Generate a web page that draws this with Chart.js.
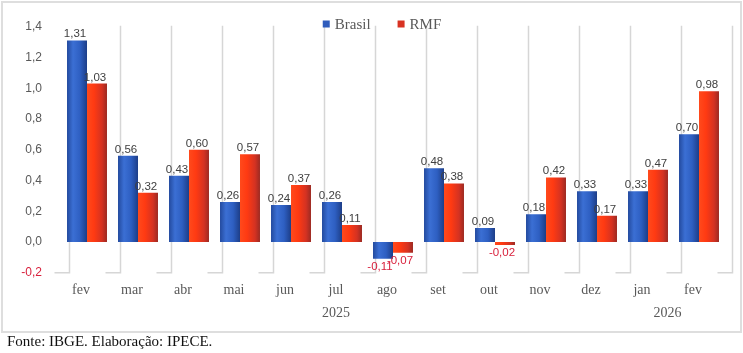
<!DOCTYPE html>
<html>
<head>
<meta charset="utf-8">
<script src="https://cdn.jsdelivr.net/npm/chart.js@4/dist/chart.umd.min.js"></script>
<style>
  html, body { margin: 0; padding: 0; background: #ffffff; }
  #wrap { position: relative; width: 743px; height: 353px; overflow: hidden; }
  #frame { position: absolute; left: 1px; top: 1px; width: 737px; height: 328px; border: 2px solid #dedede; box-sizing: content-box; pointer-events: none; }
  #chart { position: absolute; left: 0; top: 0; }
  #note { position: absolute; left: 7px; top: 333px; font-family: "Liberation Serif", "Times New Roman", serif; font-size: 15px; color: #111; white-space: nowrap; }
</style>
</head>
<body>
<div id="wrap">
  <div id="frame"></div>
  <canvas id="chart" width="743" height="353"></canvas>
  <div id="note">Fonte: IBGE. Elaboração: IPECE.</div>
</div>
<script>
const months = ['fev', 'mar', 'abr', 'mai', 'jun', 'jul', 'ago', 'set', 'out', 'nov', 'dez', 'jan', 'fev'];
const brasil = [1.31, 0.56, 0.43, 0.26, 0.24, 0.26, -0.11, 0.48, 0.09, 0.18, 0.33, 0.33, 0.70];
const rmf    = [1.03, 0.32, 0.60, 0.57, 0.37, 0.11, -0.07, 0.38, -0.02, 0.42, 0.17, 0.47, 0.98];
const years = ['2025', '2026'];
const yearFirst = [0, 11];
const yearLast = [10, 12];
const seriesNames = ['Brasil', 'RMF'];

const CAT_PCT = 0.784;
const fmt = v => Number(v).toFixed(2).replace('.', ',');
const NEG_RED = '#d8203c';

function barGradient(ctx, stops, solid) {
  if (ctx.type !== 'data') return solid;
  const chart = ctx.chart;
  const xs = chart.scales && chart.scales.x;
  if (!xs || !chart.chartArea) return solid;
  const cx = xs.getPixelForValue(ctx.dataIndex);
  const half = (xs.getPixelForValue(1) - xs.getPixelForValue(0)) * CAT_PCT / 2;
  const x0 = ctx.datasetIndex === 0 ? cx - half : cx;
  const x1 = ctx.datasetIndex === 0 ? cx : cx + half;
  const g = chart.ctx.createLinearGradient(x0, 0, x1, 0);
  stops.forEach(s => g.addColorStop(s[0], s[1]));
  return g;
}
const blueStops = [[0, '#234a9e'], [0.3, '#3b6fd4'], [0.65, '#2e5fc2'], [1, '#1d3e88']];
const redStops  = [[0, '#ff4a1c'], [0.35, '#ff3a12'], [0.75, '#d43222'], [1, '#9c2a22']];

const wallPlugin = {
  id: 'wall',
  beforeDatasetsDraw(chart) {
    const { ctx, chartArea } = chart;
    const xs = chart.scales.x, ys = chart.scales.y;
    const step = xs.getPixelForValue(1) - xs.getPixelForValue(0);
    const y0 = ys.getPixelForValue(0);
    ctx.save();
    ctx.strokeStyle = '#d6d6d6';
    ctx.lineWidth = 1.5;
    for (let i = 0; i <= months.length; i++) {
      const cx = xs.getPixelForValue(0) + step * i;
      const xb = Math.round(cx - 18) + 0.5;
      ctx.beginPath();
      ctx.moveTo(xb, i === 0 ? y0 : chartArea.top - 1);
      ctx.lineTo(xb, chartArea.bottom);
      ctx.lineTo(xb - 15, chartArea.bottom);
      ctx.stroke();
    }
    ctx.restore();
  },
  afterDatasetsDraw(chart) {
    const { ctx } = chart;
    ctx.save();
    ctx.font = '11.5px "Liberation Sans", Arial, sans-serif';
    ctx.textAlign = 'center';
    chart.data.datasets.forEach((ds, di) => {
      const meta = chart.getDatasetMeta(di);
      meta.data.forEach((el, i) => {
        const v = ds.data[i];
        if (v >= 0) {
          ctx.fillStyle = '#404040';
          ctx.textBaseline = 'bottom';
          ctx.fillText(fmt(v), el.x - 2, el.y - 0.5);
        } else {
          ctx.fillStyle = NEG_RED;
          ctx.textBaseline = 'top';
          ctx.fillText(fmt(v), el.x - 3, el.y + 2);
        }
      });
    });
    ctx.restore();
  },
  afterDraw(chart) {
    const { ctx, chartArea } = chart;
    const xs = chart.scales.x;
    ctx.save();
    ctx.font = '14px "Liberation Serif", "Times New Roman", serif';
    ctx.fillStyle = '#595959';
    ctx.textAlign = 'center';
    ctx.textBaseline = 'alphabetic';
    years.forEach((y, k) => {
      const x = (xs.getPixelForValue(yearFirst[k]) + xs.getPixelForValue(yearLast[k])) / 2 - 6;
      ctx.fillText(y, x, 317);
    });
    ctx.font = '15px "Liberation Serif", "Times New Roman", serif';
    const colors = ['#2f5cbc', '#d83222'];
    const gapAfterText = 27, box = 7, boxGap = 5;
    const widths = seriesNames.map(n => box + boxGap + ctx.measureText(n).width);
    const total = widths.reduce((a, b) => a + b, 0) + gapAfterText;
    let x = (chartArea.left + chartArea.right) / 2 - 11 - total / 2;
    ctx.textAlign = 'left';
    seriesNames.forEach((n, k) => {
      ctx.fillStyle = colors[k];
      ctx.fillRect(x, 20.5, box, box);
      ctx.fillStyle = '#595959';
      ctx.fillText(n, x + box + boxGap, 28.5);
      x += widths[k] + gapAfterText;
    });
    ctx.restore();
  }
};

new Chart(document.getElementById('chart'), {
  type: 'bar',
  data: {
    labels: months,
    datasets: [
      {
        label: seriesNames[0],
        data: brasil,
        backgroundColor: ctx => barGradient(ctx, blueStops, '#2f5cbc'),
        borderWidth: 0,
        categoryPercentage: CAT_PCT,
        barPercentage: 1
      },
      {
        label: seriesNames[1],
        data: rmf,
        backgroundColor: ctx => barGradient(ctx, redStops, '#d83222'),
        borderWidth: 0,
        categoryPercentage: CAT_PCT,
        barPercentage: 1
      }
    ]
  },
  options: {
    responsive: false,
    animation: false,
    devicePixelRatio: 1,
    layout: { padding: { top: 19, right: 18.5, left: 0, bottom: 0 } },
    plugins: {
      legend: { display: false },
      tooltip: { enabled: false }
    },
    scales: {
      x: {
        type: 'category',
        offset: true,
        grid: { display: false, drawTicks: false },
        border: { display: false },
        ticks: {
          autoSkip: false,
          maxRotation: 0,
          labelOffset: -6,
          padding: 9,
          color: '#595959',
          font: { family: '"Liberation Serif", "Times New Roman", serif', size: 14 }
        },
        afterFit(scale) { scale.height = 80.3; }
      },
      y: {
        min: -0.2,
        max: 1.4,
        grid: { display: false, drawTicks: false },
        border: { display: false },
        ticks: {
          stepSize: 0.2,
          padding: 19.5,
          color: c => (c.tick && c.tick.value < -1e-9 ? NEG_RED : '#595959'),
          font: { family: '"Liberation Sans", Arial, sans-serif', size: 12 },
          callback: v => (Math.abs(v) < 1e-9 ? 0 : Number(v)).toFixed(1).replace('.', ',')
        },
        afterFit(scale) { scale.width = 61.5; }
      }
    }
  },
  plugins: [wallPlugin]
});
</script>
</body>
</html>
